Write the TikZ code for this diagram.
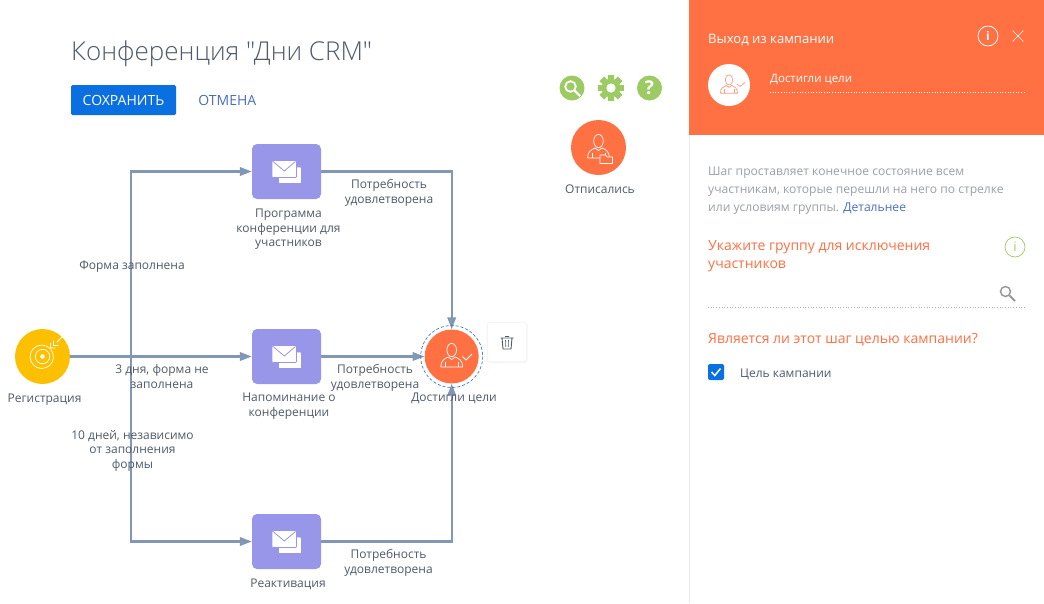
\documentclass[tikz,border=0pt]{standalone}
\usepackage{fontspec}
\setmainfont{Open Sans}
\newfontfamily\titlefont{Open Sans Light}
\usepackage{xcolor}
\usetikzlibrary{arrows.meta,positioning}
\definecolor{CrmOrange}{HTML}{FF7043}
\definecolor{CrmLilac}{HTML}{9896E8}
\definecolor{CrmYellow}{HTML}{FCC000}
\definecolor{CrmLine}{HTML}{8296B6}
\definecolor{CrmGreen}{HTML}{9CCB64}
\definecolor{CrmBlue}{HTML}{0A6FE0}
\definecolor{CrmText}{HTML}{4F5B69}
\definecolor{CrmGray}{HTML}{9AA0A6}
\definecolor{CrmLink}{HTML}{4A6FC0}
\tikzset{
 personicon/.pic={
  \draw[pic actions,line width=.7pt] (0,-6.5) ellipse (4.8 and 6.6);
  \draw[pic actions,line width=.7pt] (-11,10.5)--(11,10.5)
   .. controls (11,4) and (7,2) .. (3.5,.5)--(0,3)--(-3.5,.5)
   .. controls (-7,2) and (-11,4) .. (-11,10.5);
  \draw[pic actions,line width=.7pt] (-6.5,5)--(-6.5,10.5) (6.5,5)--(6.5,10.5);
 },
 mailicon/.pic={
  \draw[draw=CrmLilac,fill=white,rounded corners=1pt,line width=.7pt] (-8,-4.5) rectangle (15,12);
  \draw[draw=CrmLilac,fill=white,rounded corners=1pt,line width=.7pt] (-14.5,-11) rectangle (10,6);
  \draw[CrmLilac,line width=.8pt] (-13.5,-10)--(-2.2,-.5)--(9,-10);
 }
}
\begin{document}
\begin{tikzpicture}[x=1pt,y=-1pt,>=Latex,
 campaign/.style={font=\fontsize{12}{14.5}\selectfont,text=CrmText,align=center,inner sep=0pt},
 panel/.style={font=\fontsize{12.1}{18}\selectfont,text=CrmGray,align=left,anchor=base west,inner sep=0pt},
 heading/.style={font=\fontsize{14}{18}\selectfont,text=CrmOrange,align=left,anchor=base west,inner sep=0pt},
 round/.style={circle,minimum size=55pt,inner sep=0pt},
 mailbox/.style={rounded corners=5pt,fill=CrmLilac,minimum width=69pt,minimum height=55pt,inner sep=0pt},
 flow/.style={->,CrmLine,line width=2.1pt,>={Triangle[length=12pt,width=8.5pt]}},
 tool/.style={circle,fill=CrmGreen,minimum size=25pt,inner sep=0pt}]
\useasboundingbox (0,0) rectangle (1044,603);
\fill[white] (0,0) rectangle (1044,603);
% left side
\node[anchor=base west,inner sep=0pt,text=CrmText,font=\titlefont\fontsize{26}{28}\selectfont] (title) at (71,60) {Конференция "Дни CRM"};
\node[fill=CrmBlue,rounded corners=1.5pt,minimum width=105pt,minimum height=30pt,inner sep=0pt,text=white,font=\fontsize{14}{15}\selectfont] (save) at (123.5,100) {СОХРАНИТЬ};
\node[right=22pt of save,inner sep=0pt,text=CrmLink,font=\fontsize{14}{15}\selectfont] (cancel) {ОТМЕНА};
\node[tool] (find) at (572,88) {};
\node[tool,fill=none] (gear) at (611,88) {};
\node[tool] (help) at (649.5,88) {\bfseries\color{white}\fontsize{19}{19}\selectfont ?};
\draw[white,line width=1.8pt] (570.5,86.5) circle (5.3);
\draw[white,line width=2.2pt] (574.5,90.5)--(580,96);
\foreach \a in {0,45,...,315}
 \fill[CrmGreen,rotate around={\a:(gear)}] (607.7,75) rectangle (614.3,84);
\fill[CrmGreen] (gear) circle (9.3);
\fill[white] (gear) circle (4.6);
% nodes
\node[round,fill=CrmYellow] (reg) at (42.5,356.5) {};
\node[mailbox] (prog) at (286.5,171.5) {};
\node[mailbox] (remind) at (286.5,356.5) {};
\node[mailbox] (react) at (286.5,541.5) {};
\node[round,fill=CrmOrange,minimum size=54pt] (goal) at (451.7,356.5) {};
\node[round,fill=CrmOrange] (unsub) at (598.5,147.5) {};
\coordinate (split) at (131,356.5);
% connectors
\draw[flow] (reg)--(remind);
\draw[flow] (split)|-(prog);
\draw[flow] (split)|-(react);
\draw[flow] (remind)--(goal);
\draw[flow] (prog)-|(goal);
\draw[flow] (react)-|(goal);
\draw[CrmBlue!60!CrmLine,densely dashed,line width=.7pt] (goal) circle (31);
% icons
\pic[draw=white] at (prog) {mailicon};
\pic[draw=white] at (remind) {mailicon};
\pic[draw=white] at (react) {mailicon};
\pic[draw=white] at (goal) {personicon};
\draw[white,line width=1pt] (462.5,356.5)--(466,360)--(472,354);
\pic[draw=white] at (unsub) {personicon};
\draw[white,fill=CrmOrange,line width=.7pt] (600,163.5)--(600,155)--(605.5,155)--(607,157)--(612.5,157)--(612.5,163.5)--cycle;
\draw[white,line width=.7pt] (reg) circle (7.2);
\draw[white,line width=.7pt] (50,348.5) arc (-45:-400:11.7);
\fill[white] (reg) circle (2.3);
\draw[white,line width=.8pt] (reg)--(57,342) (50.5,343)--(50.5,348)--(55.5,348) (53.5,340.5)--(53.5,345.5)--(58.5,345.5);
% labels
\node[campaign,below=10pt of reg,xshift=2pt] (reglabel) {Регистрация};
\node[campaign,below=10pt of prog,xshift=2pt] (proglabel) {Программа\\конференции для\\участников};
\node[campaign,below=9pt of remind,xshift=2.5pt] (remindlabel) {Напоминание о\\конференции};
\node[campaign,below=10pt of react,xshift=1.5pt] (reactlabel) {Реактивация};
\node[campaign] (goallabel) at (454,398) {Достигли цели};
\node[campaign,below=9pt of unsub,xshift=1.5pt] (unsublabel) {Отписались};
\node[campaign] (edgea) at (389,193) {Потребность\\удовлетворена};
\node[campaign] (edgeb) at (132,267) {Форма заполнена};
\node[campaign] (edgec) at (162,376.5) {3 дня, форма не\\заполнена};
\node[campaign] (edged) at (132.5,450.5) {10 дней, независимо\\от заполнения\\формы};
\node[campaign] (edgee) at (375,378) {Потребность\\удовлетворена};
\node[campaign] (edgef) at (388.5,563) {Потребность\\удовлетворена};
% trash button
\fill[black!4,rounded corners=3pt] (486.5,322) rectangle (527.5,363);
\node[fill=white,rounded corners=2pt,minimum size=38pt,inner sep=0pt] (trash) at (507,342) {};
\draw[CrmText,line width=.9pt] (502,338)--(503,349)--(511,349)--(512,338)--cycle (500.5,338)--(513.5,338) (505,336.5)--(509,336.5);
\draw[CrmText,line width=.6pt] (505.5,340)--(505.8,347) (508.5,340)--(508.2,347);
% right panel
\draw[black!9,line width=.8pt] (689,135)--(689,603);
\fill[CrmOrange] (689,0) rectangle (1044,135);
\node[anchor=base west,inner sep=0pt,text=white,font=\fontsize{13.1}{15}\selectfont] (exit) at (708,43) {Выход из кампании};
\node[circle,draw=white,line width=.8pt,minimum size=20pt,inner sep=0pt,text=white,font=\bfseries\fontsize{12}{12}\selectfont] (info) at (988,36) {i};
\coordinate (closea) at (1012.5,30.5);
\coordinate (closeb) at (1023.5,41.5);
\coordinate (closec) at (1023.5,30.5);
\coordinate (closed) at (1012.5,41.5);
\draw[white,line width=.6pt] (closea)--(closeb) (closec)--(closed);
\node[circle,fill=white,minimum size=42pt,inner sep=0pt] (badge) at (729,85) {};
\pic[draw=CrmOrange!70,scale=.78] at (badge) {personicon};
\draw[CrmOrange!70,line width=.7pt] (737,84)--(740,86.5)--(745,82.5);
\node[anchor=base west,inner sep=0pt,text=white,font=\fontsize{11.5}{14}\selectfont] (goalname) at (770,82) {Достигли цели};
\coordinate (goalendl) at (770,92);
\coordinate (goalendr) at (1025,92);
\draw[white,dotted,line width=.7pt] (goalendl)--(goalendr);
\node[panel] (hinta) at (708,175) {Шаг проставляет конечное состояние всем};
\node[panel] (hintb) at (708,193) {участникам, которые перешли на него по стрелке};
\node[panel] (hintc) at (708,211) {или условиям группы. \textcolor{CrmLink}{Детальнее}};
\node[heading] (groupa) at (708,250) {Укажите группу для исключения};
\node[heading] (groupb) at (708,268) {участников};
\node[circle,draw=CrmGreen,line width=.7pt,minimum size=20pt,inner sep=0pt,text=CrmGreen,font=\fontsize{13}{13}\selectfont] (groupinfo) at (1015,247) {i};
\draw[gray!80,line width=1.5pt] (1005.5,291.5) circle (5);
\draw[gray!80,line width=1.9pt] (1009.5,295.5)--(1015,301);
\coordinate (groupl) at (708,307);
\coordinate (groupr) at (1024,307);
\draw[black!30,dotted,line width=.7pt] (groupl)--(groupr);
\node[heading] (question) at (708,343) {Является ли этот шаг целью кампании?};
\node[fill=CrmBlue,rounded corners=2pt,minimum size=16pt,inner sep=0pt] (check) at (716,372) {};
\draw[white,line width=1.5pt] (711.5,372)--(714.8,375.5)--(720.5,368.5);
\node[anchor=base west,inner sep=0pt,text=CrmText,font=\fontsize{12}{15}\selectfont] (goalcheck) at (740,377.5) {Цель кампании};
\end{tikzpicture}
\end{document}
